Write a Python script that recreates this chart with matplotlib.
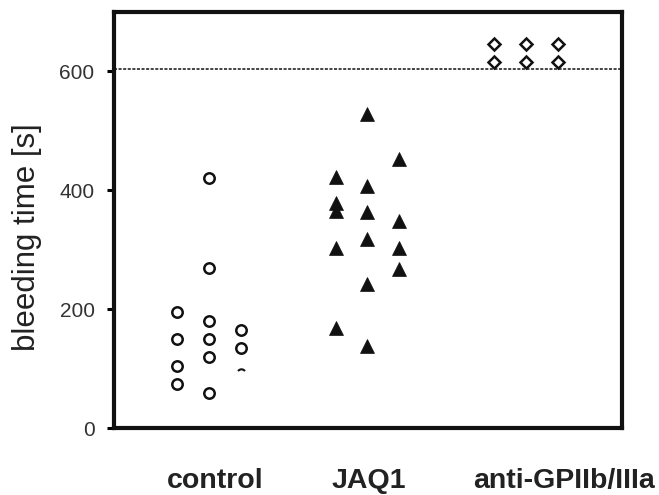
from matplotlib import pyplot as plt
from matplotlib.path import Path
import numpy as np

plt.rcParams['font.family'] = ['Liberation Sans', 'DejaVu Sans']

groups = ['control', 'JAQ1', 'anti-GPIIb/IIIa']
label_x = [0.04, 1.01, 2.24]
offsets = [-0.2, 0.0, 0.2]

# bleeding times per sub-column [s]
control = [[195, 150, 105, 75],
           [420, 270, 180, 150, 120, 60],
           [165, 135]]
control_partial = [93]
jaq1 = [[422, 378, 365, 303, 168],
        [528, 407, 364, 318, 243, 138],
        [453, 349, 303, 268]]
anti = [[645, 615], [645, 615], [645, 615]]
limit = 603

fig = plt.figure(figsize=(6.59, 4.95), dpi=100)
ax = fig.add_axes([0.173, 0.1347, 0.7709, 0.842])

for i, col in enumerate(control):
	ax.plot([0 + offsets[i]] * len(col), col, 'o', ms=7.5, mfc='white', mec='#111', mew=1.8)
ax.plot([0 + offsets[2]] * len(control_partial), control_partial, ls='none',
	marker=Path.arc(35, 145), ms=6, mfc='none', mec='#111', mew=1.5)

for i, col in enumerate(jaq1):
	ax.plot([1 + offsets[i]] * len(col), col, '^', ms=10, color='#111', mew=0.5)

for i, col in enumerate(anti):
	ax.plot([2 + offsets[i]] * len(col), col, 'D', ms=6.3, mfc='white', mec='#111', mew=1.8)

ax.axhline(limit, color='#111', lw=1.1, ls=(0, (2, 1)))

ax.set_xlim(-0.6, 2.607)
ax.set_ylim(0, 700)
ax.set_yticks([0, 200, 400, 600])
ax.set_xticks([])
ax.tick_params(axis='y', length=5, width=2.2, pad=9, labelsize=15, labelcolor='#333')
for s in ax.spines.values():
	s.set_linewidth(3)
	s.set_color('#111')

ax.set_ylabel('bleeding time [s]', fontsize=22.5, color='#222')
ax.yaxis.set_label_coords(-0.142, 0.459)

for x, g in zip(label_x, groups):
	ax.text(x, -0.144, g, transform=ax.get_xaxis_transform(), ha='center', va='baseline',
		fontsize=20.5, fontweight='bold', color='#222')

fig.savefig('out.png', dpi=100)
